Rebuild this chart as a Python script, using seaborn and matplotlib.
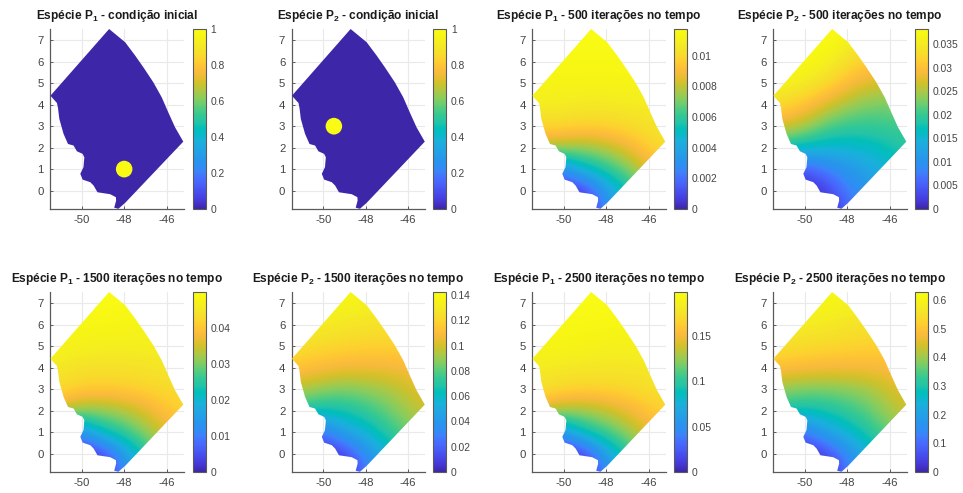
import numpy as np
import matplotlib
matplotlib.use('Agg')
import matplotlib.pyplot as plt
from matplotlib.patches import Polygon, Circle
import seaborn as sns

# parula colormap samples
parula = ['#3e26a8', '#4435d0', '#4743e6', '#4752f0', '#4862fa', '#4570fe', '#3c83f9', '#2d8ff2',
          '#2796ec', '#249fe7', '#1fa8e2', '#18b1da', '#08b9c9', '#03bfb8', '#25c4a7', '#31c897',
          '#4ccb84', '#6ecd6f', '#8fcc59', '#acc846', '#c9c22e', '#e2bf2d', '#f8ba3d', '#fec235',
          '#fdd030', '#f8dc2b', '#f5e527', '#f5ef1f', '#f7f514', '#f9fb15']

# outline of the domain, lon / lat
outline_x = [-48.71, -47.95, -47.48, -47.09, -46.62, -46.23, -45.92, -45.60, -45.21, -47.95, -48.27, -48.47,
             -48.38, -48.39, -48.66, -49.26, -49.44, -49.60, -49.96, -50.07, -49.92, -49.88, -49.96,
             -50.23, -50.39, -50.65, -50.86, -51.06, -51.12, -51.17, -51.48]
outline_y = [7.53, 6.91, 6.29, 5.74, 5.04, 4.35, 3.65, 2.95, 2.28, -0.57, -0.85, -0.80,
             -0.47, -0.31, -0.17, -0.08, 0.23, 0.39, 0.51, 0.78, 1.09, 1.55, 1.71,
             1.83, 2.10, 2.17, 2.64, 3.34, 3.83, 4.08, 4.42]

grid_x = [-52, -51, -50, -49, -48, -47, -46, -45]
grid_y = [-1, 0, 1, 2, 3, 4, 5, 6, 7, 8]

# field values as position on each colorbar (0 to 1), one row per grid_y
p1_500 = [[0, 0, 0, 0, .20, .45, .60, .70],
          [0, 0, 0, .06, .30, .45, .62, .75],
          [.10, .10, .27, .42, .50, .60, .72, .80],
          [.70, .68, .65, .63, .67, .74, .83, .87],
          [.86, .85, .85, .84, .84, .86, .88, .90],
          [.93, .93, .92, .91, .91, .92, .92, .93],
          [.96, .96, .96, .96, .96, .96, .96, .96],
          [.98, .98, .98, .98, .98, .98, .98, .98],
          [1, 1, 1, 1, 1, .99, .99, .99],
          [1, 1, 1, 1, 1, 1, 1, 1]]
p2_500 = [[0, 0, 0, 0, .12, .25, .33, .40],
          [0, 0, 0, .06, .20, .28, .35, .42],
          [.10, .10, .12, .20, .28, .33, .40, .46],
          [.50, .45, .42, .40, .40, .42, .46, .50],
          [.75, .72, .66, .56, .52, .52, .53, .55],
          [.88, .85, .80, .72, .65, .60, .60, .60],
          [.97, .95, .92, .86, .78, .72, .70, .70],
          [1, 1, .98, .95, .87, .82, .80, .80],
          [1, 1, 1, 1, .95, .90, .88, .88],
          [1, 1, 1, 1, 1, .95, .95, .95]]
p1_1500 = [[0, 0, 0, 0, .20, .42, .60, .70],
           [0, 0, 0, .07, .30, .48, .62, .75],
           [.10, .10, .28, .45, .52, .62, .72, .78],
           [.72, .70, .62, .62, .66, .72, .80, .84],
           [.88, .86, .82, .82, .82, .84, .85, .87],
           [.92, .90, .88, .88, .88, .89, .90, .90],
           [.96, .95, .94, .93, .93, .93, .93, .93],
           [1, .98, .97, .97, .96, .96, .96, .96],
           [1, 1, 1, 1, .99, .99, .99, .99],
           [1, 1, 1, 1, 1, 1, 1, 1]]
p2_1500 = [[0, 0, 0, 0, .17, .35, .50, .60],
           [0, 0, 0, .07, .25, .38, .52, .62],
           [.10, .10, .20, .33, .40, .50, .58, .64],
           [.50, .48, .45, .47, .52, .58, .65, .70],
           [.68, .66, .62, .60, .62, .65, .70, .74],
           [.82, .79, .77, .75, .75, .75, .76, .78],
           [.88, .87, .85, .84, .83, .83, .83, .83],
           [.95, .93, .92, .90, .89, .88, .88, .88],
           [1, .98, .97, .95, .94, .93, .93, .93],
           [1, 1, 1, .99, .97, .96, .96, .96]]
p1_2500 = [[0, 0, 0, 0, .20, .42, .60, .70],
           [0, 0, 0, .07, .32, .48, .63, .75],
           [.15, .15, .30, .46, .54, .63, .73, .78],
           [.75, .72, .64, .64, .68, .74, .80, .84],
           [.88, .87, .85, .84, .84, .85, .87, .88],
           [.92, .92, .91, .90, .90, .90, .91, .92],
           [.96, .96, .96, .95, .94, .94, .94, .94],
           [.98, .98, .98, .98, .97, .97, .97, .97],
           [1, 1, 1, 1, 1, 1, .99, .99],
           [1, 1, 1, 1, 1, 1, 1, 1]]
p2_2500 = [[0, 0, 0, 0, .15, .33, .48, .58],
           [0, 0, 0, .07, .24, .38, .50, .60],
           [.10, .10, .20, .32, .40, .49, .58, .64],
           [.50, .48, .45, .47, .52, .57, .65, .70],
           [.64, .62, .60, .60, .61, .64, .70, .74],
           [.80, .78, .77, .76, .76, .76, .77, .78],
           [.88, .87, .86, .85, .84, .83, .83, .83],
           [.95, .93, .92, .91, .89, .88, .88, .88],
           [1, .98, .97, .96, .95, .93, .93, .93],
           [1, 1, 1, .99, .97, .96, .96, .96]]
zero_field = [[0] * 8] * 10

# title, field, colorbar top, colorbar ticks, spot of initial condition
panels = [
    ('Espécie P$_1$ - condição inicial', zero_field, 1, [0, .2, .4, .6, .8, 1], (-48, 1)),
    ('Espécie P$_2$ - condição inicial', zero_field, 1, [0, .2, .4, .6, .8, 1], (-49.5, 3)),
    ('Espécie P$_1$ - 500 iterações no tempo', p1_500, .01175, [0, .002, .004, .006, .008, .01], None),
    ('Espécie P$_2$ - 500 iterações no tempo', p2_500, .0382, [0, .005, .01, .015, .02, .025, .03, .035], None),
    ('Espécie P$_1$ - 1500 iterações no tempo', p1_1500, .0499, [0, .01, .02, .03, .04], None),
    ('Espécie P$_2$ - 1500 iterações no tempo', p2_1500, .1424, [0, .02, .04, .06, .08, .1, .12, .14], None),
    ('Espécie P$_1$ - 2500 iterações no tempo', p1_2500, .198, [0, .05, .1, .15], None),
    ('Espécie P$_2$ - 2500 iterações no tempo', p2_2500, .628, [0, .1, .2, .3, .4, .5, .6], None),
]

W, H = 963, 493
ax_left = [50, 291.5, 532, 773]
cb_left = [192.5, 433, 673.5, 915]
row_top = [29, 292]
ax_w, ax_h, cb_w = 133.5, 180, 13
spot_radius = 0.39

sns.set_theme(style='white')
plt.rcParams['font.family'] = ['Liberation Sans', 'DejaVu Sans']
plt.rcParams['mathtext.default'] = 'regular'
cmap = sns.blend_palette(parula, n_colors=256, as_cmap=True)
grey = '#5a5a5a'

fig = plt.figure(figsize=(W / 100, H / 100), dpi=100)

for i, (title, field, top, ticks, spot) in enumerate(panels):
    col, row = i % 4, i // 4
    y0 = 1 - (row_top[row] + ax_h) / H
    ax = fig.add_axes([ax_left[col] / W, y0, ax_w / W, ax_h / H])
    cax = fig.add_axes([cb_left[col] / W, y0, cb_w / W, ax_h / H])

    values = np.array(field, dtype=float) * top
    im = ax.imshow(values, origin='lower', extent=(grid_x[0] - .5, grid_x[-1] + .5, grid_y[0] - .5, grid_y[-1] + .5),
                   aspect='auto', interpolation='bicubic', cmap=cmap, vmin=0, vmax=top, zorder=3)
    shape = Polygon(np.column_stack([outline_x, outline_y]), transform=ax.transData, fc='none', ec='none')
    ax.add_patch(shape)
    im.set_clip_path(shape)
    if spot:
        ax.add_patch(Circle(spot, spot_radius, fc=cmap(1.0), ec='none', zorder=4))

    ax.set_xlim(-51.5, -45.2)
    ax.set_ylim(-0.86, 7.53)
    ax.set_xticks([-50, -48, -46])
    ax.set_yticks(range(0, 8))
    ax.set_xticklabels(['-50', '-48', '-46'])
    ax.grid(True, color='#e9e9e9', lw=0.8)
    ax.set_axisbelow(True)
    sns.despine(ax=ax)
    for side in ['left', 'bottom']:
        ax.spines[side].set_color(grey)
        ax.spines[side].set_linewidth(0.9)
    ax.tick_params(direction='in', length=2, width=0.7, color=grey, labelcolor='#444444', labelsize=8.2,
                   left=True, bottom=True, pad=4.5)
    ax.set_title(title, fontsize=8.6, fontweight='bold', color='#1a1a1a', pad=7)

    cb = fig.colorbar(im, cax=cax)
    cb.set_ticks(ticks)
    cb.set_ticklabels(['%g' % t for t in ticks])
    cb.ax.tick_params(direction='in', length=1.5, width=0.6, color=grey, labelcolor='#444444', labelsize=7.4, pad=3.5, right=True)
    cb.outline.set_edgecolor(grey)
    cb.outline.set_linewidth(0.8)

fig.savefig('out.png', dpi=100)
